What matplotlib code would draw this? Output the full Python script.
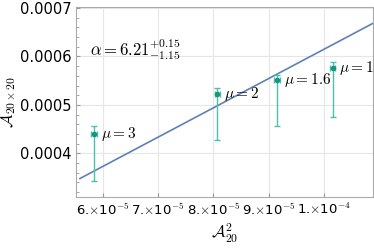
import numpy as np
import matplotlib.pyplot as plt

# data
mu_labels = ["3", "2", "1.6", "1"]
a20_sq = [5.84e-5, 8.07e-5, 9.15e-5, 1.016e-4]
a20x20 = [0.000441, 0.000522, 0.000551, 0.000577]
err_hi = [0.000456, 0.000534, 0.000561, 0.000588]
err_lo = [0.000342, 0.000427, 0.000456, 0.000476]
x_err = [0.05e-5, 0.05e-5, 0.05e-5, 0.05e-5]

# fitted line end points
fit_x = [5.58e-5, 1.09e-4]
fit_y = [0.000348, 0.000669]

x_ticks = [6e-5, 7e-5, 8e-5, 9e-5, 1e-4]
x_tick_labels = [r"6.$\times$10$^{-5}$", r"7.$\times$10$^{-5}$", r"8.$\times$10$^{-5}$",
                 r"9.$\times$10$^{-5}$", r"1.$\times$10$^{-4}$"]
y_ticks = [0.0004, 0.0005, 0.0006, 0.0007]
y_tick_labels = ["0.0004", "0.0005", "0.0006", "0.0007"]

plt.rcParams['font.family'] = ['DejaVu Sans']
plt.rcParams['mathtext.fontset'] = 'cm'

fig = plt.figure(figsize=(3.74, 2.49), dpi=100)
ax = fig.add_axes([76 / 374, 1 - 197 / 249, (373 - 76) / 374, (197 - 7) / 249])

ax.plot(fit_x, fit_y, color='#5e81b5', lw=1.2, zorder=2)

y = np.array(a20x20)
yerr = [y - np.array(err_lo), np.array(err_hi) - y]
ax.errorbar(a20_sq, a20x20, yerr=yerr, xerr=x_err, fmt='none',
            ecolor='#4cbfad', elinewidth=1.0, capsize=2.5, capthick=1.0, zorder=3)
ax.plot(a20_sq, a20x20, 'o', color='#16967f', ms=3, zorder=4)

for xi, yi, m in zip(a20_sq, a20x20, mu_labels):
    ax.text(xi + 0.12e-5, yi, r"$\mu = %s$" % m, fontsize=11, va='center', ha='left')

ax.text(0.048, 0.78, r"$\alpha = 6.21^{+0.15}_{-1.15}$", transform=ax.transAxes,
        fontsize=12, va='center', ha='left')

ax.set_xlim(5.51e-5, 1.089e-4)
ax.set_ylim(0.000310, 0.000702)

ax.set_xticks(x_ticks)
ax.set_xticklabels(x_tick_labels, fontsize=9.5)
ax.set_yticks(y_ticks)
ax.set_yticklabels(y_tick_labels, fontsize=10.5)
ax.set_yticks(np.arange(0.00032, 0.00070, 0.00002), minor=True)

ax.grid(True, color='#e6e6e6', lw=0.8)
ax.set_axisbelow(True)
ax.tick_params(axis='both', which='major', length=3, color='#999999', direction='in')
ax.tick_params(axis='y', which='minor', length=1.8, color='#999999', direction='in')
for s in ax.spines.values():
    s.set_color('#aaaaaa')
    s.set_linewidth(0.8)

ax.set_xlabel(r"$\mathcal{A}_{20}^{2}$", fontsize=12, labelpad=3)
ax.set_ylabel(r"$\mathcal{A}_{20\times 20}$", fontsize=12, labelpad=1)

fig.savefig("out.png", dpi=100)
